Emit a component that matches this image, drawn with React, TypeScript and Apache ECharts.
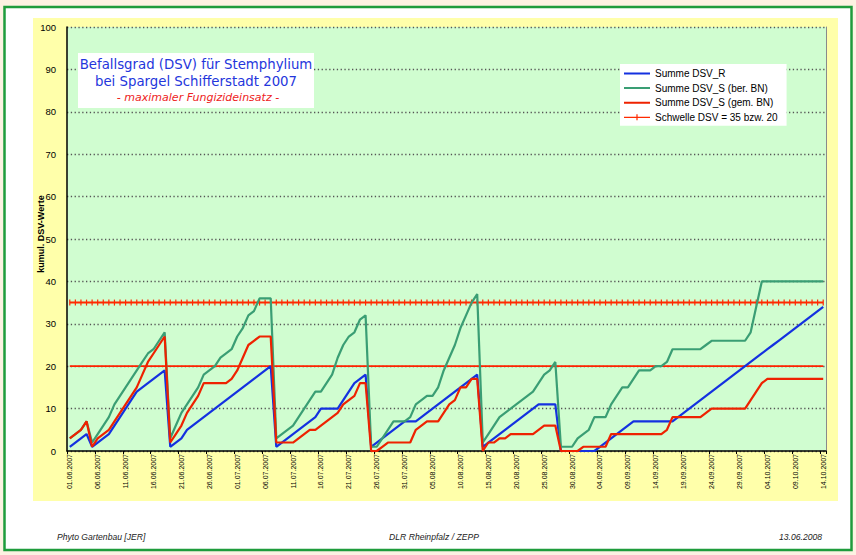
import React, { useEffect, useRef } from 'react';
import * as echarts from 'echarts';

// ---------- data ----------
const START_YEAR = 2007;
const START_MONTH = 5; // June (0-based)
const DAY_COUNT = 136; // 01.06.2007 .. 14.10.2007

const pad2 = (n: number) => (n < 10 ? '0' + n : String(n));
const categories: string[] = [];
for (let i = 0; i < DAY_COUNT; i++) {
  const d = new Date(Date.UTC(START_YEAR, START_MONTH, 1 + i));
  categories.push(`${pad2(d.getUTCDate())}.${pad2(d.getUTCMonth() + 1)}.${d.getUTCFullYear()}`);
}

const seriesNames = [
  'Summe DSV_R',
  'Summe DSV_S (ber. BN)',
  'Summe DSV_S (gem. BN)',
  'Schwelle DSV = 35 bzw. 20',
];

const sumDsvR = [
  1, 2, 3, 4, 1, 2, 3, 4, 6, 8, 10, 12, 14, 15, 16, 17, 18, 19,
  1, 2, 3, 5, 6, 7, 8, 9, 10, 11, 12, 13, 14, 15, 16, 17, 18, 19, 20,
  1, 2, 3, 4, 5, 6, 7, 8, 10, 10, 10, 10, 12, 14, 16, 17, 18,
  1, 2, 3, 4, 5, 6, 7, 7, 7, 8, 9, 10, 11, 12, 13, 14, 15, 16, 17, 18,
  1, 2, 3, 4, 5, 6, 7, 8, 9, 10, 11, 11, 11, 11,
  0, 0, 0, 0, 0, 0, 0, 1, 2, 3, 4, 5, 6, 7, 7, 7, 7, 7, 7, 7, 7,
  8, 9, 10, 11, 12, 13, 14, 15, 16, 17, 18, 19, 20, 21, 22, 23, 24, 25, 26, 27, 28, 29, 30, 31, 32, 33, 34,
];

const sumDsvSBer = [
  3, 4, 5, 7, 2, 4, 6, 8, 11, 13, 15, 17, 19, 21, 23, 24, 26, 28,
  3, 6, 9, 11, 13, 15, 18, 19, 20, 22, 23, 24, 27, 29, 32, 33, 36, 36, 36,
  3, 4, 5, 6, 8, 10, 12, 14, 14, 16, 18, 22, 25, 27, 28, 31, 32,
  1, 1, 3, 5, 7, 7, 7, 8, 11, 12, 13, 13, 15, 19, 22, 25, 29, 32, 35, 37,
  2, 4, 6, 8, 9, 10, 11, 12, 13, 14, 16, 18, 19, 21,
  1, 1, 1, 3, 4, 5, 8, 8, 8, 11, 13, 15, 15, 17, 19, 19, 19, 20, 20, 21,
  24, 24, 24, 24, 24, 24, 25, 26, 26, 26, 26, 26, 26, 26, 28, 34, 40,
  40, 40, 40, 40, 40, 40, 40, 40, 40, 40, 40,
];

const sumDsvSGem = [
  3, 4, 5, 7, 1, 3, 4, 5, 7, 9, 11, 13, 15, 18, 21, 23, 25, 27,
  2, 4, 6, 9, 11, 13, 16, 16, 16, 16, 16, 17, 19, 22, 25, 26, 27, 27, 27,
  2, 2, 2, 2, 3, 4, 5, 5, 6, 7, 8, 9, 11, 12, 13, 16, 16,
  0, 0, 1, 2, 2, 2, 2, 2, 5, 6, 7, 7, 7, 9, 11, 12, 15, 15, 17, 17,
  0, 2, 2, 3, 3, 4, 4, 4, 4, 4, 5, 6, 6, 6,
  0, 0, 0, 0, 1, 1, 1, 1, 1, 4, 4, 4, 4, 4, 4, 4, 4, 4, 4, 5,
  8, 8, 8, 8, 8, 8, 9, 10, 10, 10, 10, 10, 10, 10, 12, 14, 16,
  17, 17, 17, 17, 17, 17, 17, 17, 17, 17, 17,
];

const THRESHOLD_HIGH = 35;
const THRESHOLD_LOW = 20;

const yTicks = { min: 0, max: 100, interval: 10 };

const titleLines = [
  'Befallsgrad (DSV) für Stemphylium',
  'bei Spargel Schifferstadt 2007',
  '- maximaler Fungizideinsatz -',
];
const footerTexts = ['Phyto Gartenbau [JER]', 'DLR Rheinpfalz / ZEPP', '13.06.2008'];
const yAxisName = 'kumul. DSV-Werte';

// ---------- colours ----------
const BLUE = '#1431e0';
const GREEN = '#3a9e74';
const RED = '#ee2200';

// legend icons (26 x 8 box; tiny corner dots keep the bounding box)
const BOX = 'M0 0h0.01v0.01h-0.01z M25.99 7.99h0.01v0.01h-0.01z ';
const LINE_ICON = 'path://' + BOX + 'M0 3H26V5H0Z';
const TICK_ICON = 'path://' + BOX + 'M0 3.4H26V4.6H0Z M12.4 1H13.6V7H12.4Z';

export default function App() {
  const ref = useRef<HTMLDivElement>(null);

  useEffect(() => {
    if (!ref.current) return;
    const chart = echarts.init(ref.current, null, { renderer: 'svg' });
    const font = 'Liberation Sans, Arial, sans-serif';
    const titleFont = '"DejaVu Sans", Verdana, sans-serif';

    const option: any = {
      animation: false,
      backgroundColor: '#fdf2e2',
      textStyle: { fontFamily: font },
      graphic: [
        {
          type: 'rect', z: -20, silent: true,
          shape: { x: 4.5, y: 7, width: 847, height: 543 },
          style: { fill: '#ffffff', stroke: '#1f9c3c', lineWidth: 2.5 },
        },
        {
          type: 'rect', z: -19, silent: true,
          shape: { x: 33, y: 18, width: 805, height: 483 },
          style: { fill: '#ffffaa' },
        },
        {
          type: 'group', z: 50,
          children: [
            { type: 'rect', z: 50, shape: { x: 78, y: 53, width: 236, height: 55 }, style: { fill: '#ffffff' } },
            {
              type: 'text', z: 51, x: 196, y: 64.5,
              style: { text: titleLines[0], fill: '#2436dc', font: '13.3px ' + titleFont, textAlign: 'center', textVerticalAlign: 'middle' },
            },
            {
              type: 'text', z: 51, x: 196, y: 81.5,
              style: { text: titleLines[1], fill: '#2436dc', font: '13.3px ' + titleFont, textAlign: 'center', textVerticalAlign: 'middle' },
            },
            {
              type: 'text', z: 51, x: 198, y: 97.5,
              style: { text: titleLines[2], fill: '#ee2222', font: 'italic 11px ' + titleFont, textAlign: 'center', textVerticalAlign: 'middle' },
            },
          ],
        },
        {
          type: 'text', x: 57, y: 537,
          style: { text: footerTexts[0], fill: '#222', font: 'italic 8.6px ' + font, textAlign: 'left', textVerticalAlign: 'middle' },
        },
        {
          type: 'text', x: 434, y: 537,
          style: { text: footerTexts[1], fill: '#222', font: 'italic 8.6px ' + font, textAlign: 'center', textVerticalAlign: 'middle' },
        },
        {
          type: 'text', x: 822, y: 537,
          style: { text: footerTexts[2], fill: '#222', font: 'italic 8.6px ' + font, textAlign: 'right', textVerticalAlign: 'middle' },
        },
      ],
      grid: {
        left: 67, right: 30, top: 27, bottom: 104,
        show: true, backgroundColor: '#d0fdd0', borderWidth: 0,
      },
      legend: {
        data: [
          { name: seriesNames[0], icon: LINE_ICON },
          { name: seriesNames[1], icon: LINE_ICON },
          { name: seriesNames[2], icon: LINE_ICON },
          { name: seriesNames[3], icon: TICK_ICON },
        ],
        orient: 'vertical',
        left: 620, top: 64,
        backgroundColor: '#ffffff',
        padding: [4.5, 9, 3.5, 4],
        itemWidth: 26, itemHeight: 8, itemGap: 4.6,
        textStyle: { fontSize: 10, color: '#000', fontFamily: font },
        z: 40,
      },
      xAxis: {
        type: 'category',
        data: categories,
        boundaryGap: true,
        axisLine: { lineStyle: { color: '#000', width: 1.5 } },
        axisTick: { show: true, interval: 4, length: 3, lineStyle: { color: '#000', width: 1 } },
        axisLabel: { interval: 4, rotate: 90, fontSize: 7, margin: 3, color: '#000', fontFamily: font },
        splitLine: { show: false },
      },
      yAxis: [
        {
          type: 'value',
          min: yTicks.min, max: yTicks.max, interval: yTicks.interval,
          name: yAxisName,
          nameLocation: 'middle',
          nameRotate: 90,
          nameGap: 22,
          nameMoveOverlap: false,
          nameTextStyle: { fontSize: 9, fontWeight: 'bold', color: '#000', fontFamily: font, padding: [0, 0, 0, 10] },
          axisLine: { show: true, lineStyle: { color: '#000', width: 1.5 } },
          axisTick: { show: false },
          axisLabel: { fontSize: 9.5, color: '#000', margin: 11, fontFamily: font },
          splitLine: { show: true, lineStyle: { color: '#555', width: 1.3, type: [1.3, 2.5] } },
        },
        {
          type: 'value',
          position: 'right',
          min: yTicks.min, max: yTicks.max, interval: yTicks.interval,
          axisLine: { show: true, lineStyle: { color: '#8a8a8a', width: 1 } },
          axisTick: { show: false },
          axisLabel: { show: false },
          splitLine: { show: false },
        },
      ],
      series: [
        {
          name: seriesNames[3],
          type: 'line',
          data: categories.map(() => THRESHOLD_HIGH),
          symbol: 'rect',
          symbolSize: [1.2, 6],
          showSymbol: true,
          showAllSymbol: true,
          itemStyle: { color: '#ff2a00' },
          lineStyle: { color: '#ff2a00', width: 2 },
          z: 3,
          silent: true,
        },
        {
          name: seriesNames[3],
          type: 'line',
          data: categories.map(() => THRESHOLD_LOW),
          symbol: 'none',
          lineStyle: { color: '#ff2200', width: 1.8 },
          itemStyle: { color: '#ff2200' },
          z: 3,
          silent: true,
        },
        {
          name: seriesNames[0],
          type: 'line',
          data: sumDsvR,
          symbol: 'none',
          lineStyle: { color: BLUE, width: 2.2 },
          itemStyle: { color: BLUE },
          z: 4,
        },
        {
          name: seriesNames[1],
          type: 'line',
          data: sumDsvSBer,
          symbol: 'none',
          lineStyle: { color: GREEN, width: 2.2 },
          itemStyle: { color: GREEN },
          z: 5,
        },
        {
          name: seriesNames[2],
          type: 'line',
          data: sumDsvSGem,
          symbol: 'none',
          lineStyle: { color: RED, width: 2.2 },
          itemStyle: { color: RED },
          z: 6,
        },
      ],
    };

    chart.setOption(option);
    return () => chart.dispose();
  }, []);

  return (
    <div
      ref={ref}
      style={{ position: 'fixed', left: 0, top: 0, width: 856, height: 555 }}
    />
  );
}
